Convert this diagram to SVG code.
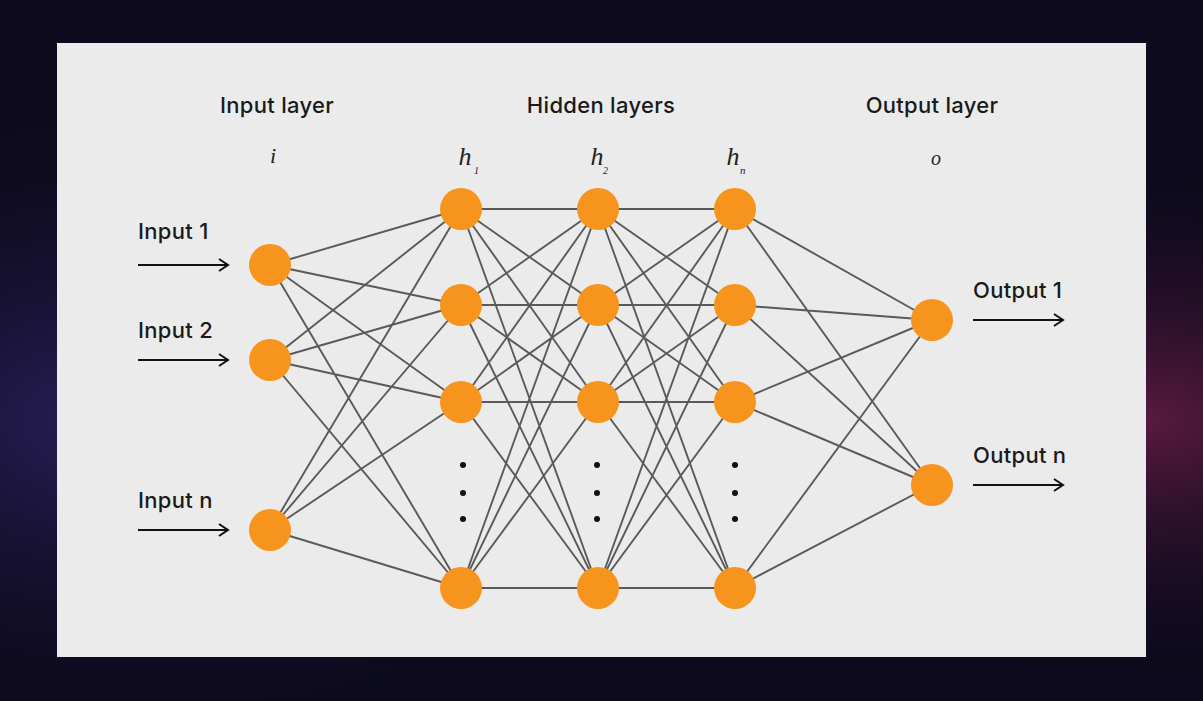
<svg xmlns="http://www.w3.org/2000/svg" width="1203" height="701" viewBox="0 0 1203 701">
<defs>
<radialGradient id="g1" cx="0.1" cy="0.6" r="0.5"><stop offset="0" stop-color="#2a1f5a"/><stop offset="1" stop-color="#0c0a1c" stop-opacity="0"/></radialGradient>
<radialGradient id="g2" cx="0.95" cy="0.6" r="0.4"><stop offset="0" stop-color="#5a1a40"/><stop offset="1" stop-color="#0c0a1c" stop-opacity="0"/></radialGradient>
<marker id="ah" markerWidth="14" markerHeight="14" refX="12" refY="7" orient="auto" markerUnits="userSpaceOnUse"><path d="M3,1 L12,7 L3,13" fill="none" stroke="#111" stroke-width="2"/></marker>
<style>
.n{fill:#f7941d}
.e{stroke:#5a5a5a;stroke-width:1.9}
.t{font-family:Inter,"Liberation Sans",Arial,sans-serif;font-size:22px;font-weight:500;fill:#1a1a1a;letter-spacing:0.3px}
.v{font-family:"Liberation Serif","DejaVu Serif",serif;font-style:italic;fill:#222}
.a{stroke:#111;stroke-width:2;marker-end:url(#ah)}
</style>
</defs>
<rect width="1203" height="701" fill="#0c0a1c"/>
<rect width="1203" height="701" fill="url(#g1)"/>
<rect width="1203" height="701" fill="url(#g2)"/>
<rect x="57" y="43" width="1089" height="614" fill="#ebebeb"/>
<g id="labels">
<text class="t" x="277" y="113" text-anchor="middle">Input layer</text>
<text class="t" x="601" y="113" text-anchor="middle">Hidden layers</text>
<text class="t" x="932" y="113" text-anchor="middle">Output layer</text>
<text class="v" x="273" y="163" font-size="22" text-anchor="middle">i</text>
<text class="v" x="465" y="165" font-size="26" text-anchor="middle">h</text><text class="v" x="474" y="174" font-size="10">1</text>
<text class="v" x="597" y="165" font-size="26" text-anchor="middle">h</text><text class="v" x="603" y="174" font-size="10">2</text>
<text class="v" x="733" y="165" font-size="26" text-anchor="middle">h</text><text class="v" x="740" y="174" font-size="11">n</text>
<text class="v" x="936" y="165" font-size="20" text-anchor="middle">o</text>
<text class="t" x="138" y="239">Input 1</text>
<text class="t" x="138" y="338">Input 2</text>
<text class="t" x="138" y="508">Input n</text>
<text class="t" x="973" y="298">Output 1</text>
<text class="t" x="973" y="463">Output n</text>
</g>
<g id="arrows">
<line class="a" x1="138" y1="265" x2="228" y2="265"/>
<line class="a" x1="138" y1="360" x2="228" y2="360"/>
<line class="a" x1="138" y1="530" x2="228" y2="530"/>
<line class="a" x1="973" y1="320" x2="1063" y2="320"/>
<line class="a" x1="973" y1="485" x2="1063" y2="485"/>
</g>
<g id="connectors">
<path class="e" d="M270,265L461,209M270,265L461,305M270,265L461,402M270,265L461,588M270,360L461,209M270,360L461,305M270,360L461,402M270,360L461,588M270,530L461,209M270,530L461,305M270,530L461,402M270,530L461,588"/>
<path class="e" d="M461,209L598,209M461,209L598,305M461,209L598,402M461,209L598,588M461,305L598,209M461,305L598,305M461,305L598,402M461,305L598,588M461,402L598,209M461,402L598,305M461,402L598,402M461,402L598,588M461,588L598,209M461,588L598,305M461,588L598,402M461,588L598,588"/>
<path class="e" d="M598,209L735,209M598,209L735,305M598,209L735,402M598,209L735,588M598,305L735,209M598,305L735,305M598,305L735,402M598,305L735,588M598,402L735,209M598,402L735,305M598,402L735,402M598,402L735,588M598,588L735,209M598,588L735,305M598,588L735,402M598,588L735,588"/>
<path class="e" d="M735,209L932,320M735,209L932,485M735,305L932,320M735,305L932,485M735,402L932,320M735,402L932,485M735,588L932,320M735,588L932,485"/>
</g>
<g id="dots" fill="#111">
<circle cx="463" cy="465" r="3"/><circle cx="463" cy="493" r="3"/><circle cx="463" cy="519" r="3"/>
<circle cx="597" cy="465" r="3"/><circle cx="597" cy="493" r="3"/><circle cx="597" cy="519" r="3"/>
<circle cx="735" cy="465" r="3"/><circle cx="735" cy="493" r="3"/><circle cx="735" cy="519" r="3"/>
</g>
<g id="in1"><circle class="n" cx="270" cy="265" r="21"/></g>
<g id="in2"><circle class="n" cx="270" cy="360" r="21"/></g>
<g id="inn"><circle class="n" cx="270" cy="530" r="21"/></g>
<g id="h1a"><circle class="n" cx="461" cy="209" r="21"/></g>
<g id="h1b"><circle class="n" cx="461" cy="305" r="21"/></g>
<g id="h1c"><circle class="n" cx="461" cy="402" r="21"/></g>
<g id="h1d"><circle class="n" cx="461" cy="588" r="21"/></g>
<g id="h2a"><circle class="n" cx="598" cy="209" r="21"/></g>
<g id="h2b"><circle class="n" cx="598" cy="305" r="21"/></g>
<g id="h2c"><circle class="n" cx="598" cy="402" r="21"/></g>
<g id="h2d"><circle class="n" cx="598" cy="588" r="21"/></g>
<g id="hna"><circle class="n" cx="735" cy="209" r="21"/></g>
<g id="hnb"><circle class="n" cx="735" cy="305" r="21"/></g>
<g id="hnc"><circle class="n" cx="735" cy="402" r="21"/></g>
<g id="hnd"><circle class="n" cx="735" cy="588" r="21"/></g>
<g id="out1"><circle class="n" cx="932" cy="320" r="21"/></g>
<g id="outn"><circle class="n" cx="932" cy="485" r="21"/></g>
</svg>
